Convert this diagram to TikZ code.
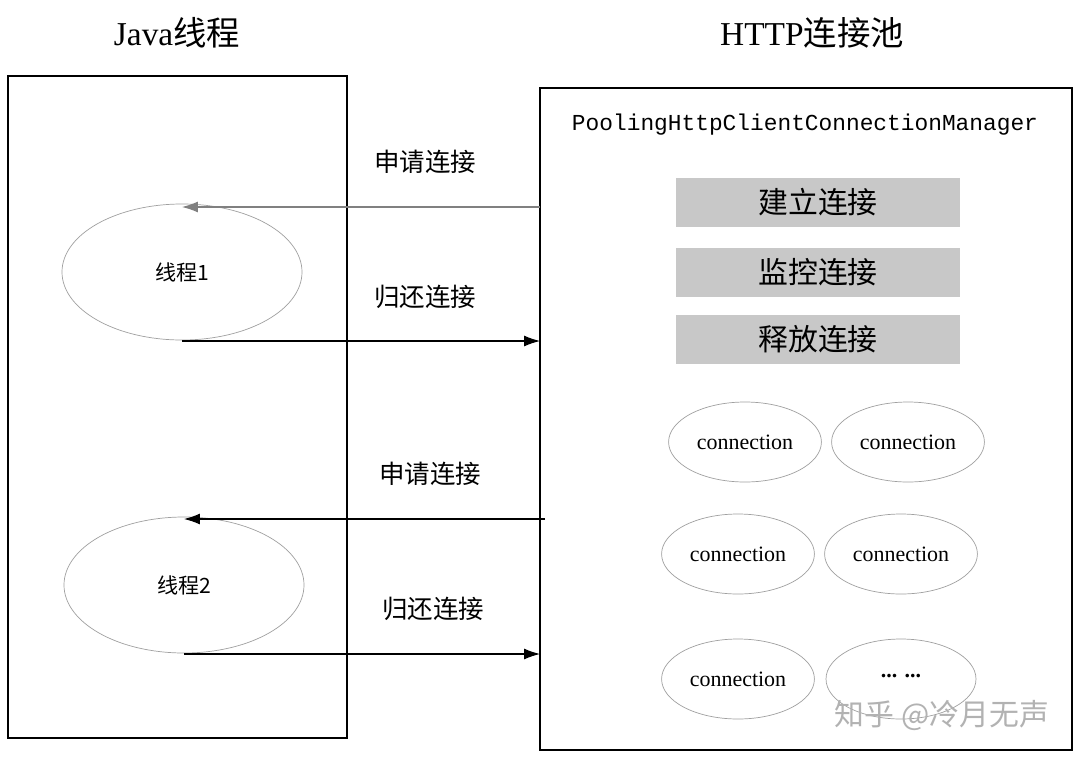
\documentclass[tikz,border=0pt]{standalone}
\usepackage{fontspec}
\setmainfont{Liberation Serif}
\setmonofont{Liberation Mono}
\newfontfamily\cjk{Noto Sans CJK SC}
\usetikzlibrary{shapes.geometric,arrows.meta}
\definecolor{barfill}{HTML}{C8C8C8}
\definecolor{ringgray}{HTML}{A0A0A0}
\newlength{\unitpx}\setlength{\unitpx}{0.02cm}
\tikzset{
  bar/.style={fill=barfill,draw=none,minimum width=284\unitpx,minimum height=49\unitpx,font=\cjk\fontsize{17}{17}\selectfont},
  conn/.style={ellipse,draw=ringgray,minimum width=150\unitpx,minimum height=80\unitpx,font=\fontsize{12.5}{12.5}\selectfont},
  thread/.style={ellipse,draw=ringgray,minimum width=240\unitpx,minimum height=136\unitpx,font=\cjk\fontsize{12}{12}\selectfont},
  lbl/.style={font=\cjk\fontsize{14.5}{14.5}\selectfont},
  flow/.style={-{Latex[length=0.32cm,width=0.22cm]},line width=0.6pt}
}
\begin{document}
\begin{tikzpicture}[x=0.02cm,y=-0.02cm]
\useasboundingbox[fill=white] (0,0) rectangle (1085,761);
% boxes
\draw[line width=0.6pt] (8,76) rectangle (347,738);
\draw[line width=0.6pt] (540,88) rectangle (1072,750);
\node[font=\fontsize{19}{19}\selectfont] (javat) at (177,33) {Java{\cjk 线程}};
\node[font=\fontsize{19}{19}\selectfont] (poolt) at (812,33) {HTTP{\cjk 连接池}};
\node[font=\ttfamily\fontsize{13}{13}\selectfont] (mgr) at (805,125) {PoolingHttpClientConnectionManager};
% manager functions
\node[bar] (build) at (818,202) {建立连接};
\node[bar] (watch) at (818,272) {监控连接};
\node[bar] (free) at (818,339) {释放连接};
% connections
\node[conn] (c1) at (745,442) {connection};
\node[conn] (c2) at (908,442) {connection};
\node[conn] (c3) at (738,554) {connection};
\node[conn] (c4) at (901,554) {connection};
\node[conn] (c5) at (738,679) {connection};
\node[conn] (c6) at (901,679) {\raisebox{4pt}{\textbf{... ...}}};
% threads
\node[thread] (t1) at (182,272) {线程1};
\node[thread] (t2) at (184,585) {线程2};
\coordinate (in1) at (540,207);
\coordinate (out1) at (540,341);
\coordinate (in2) at (545,519);
\coordinate (out2) at (540,654);
\draw[flow,draw=gray,fill=gray] (in1) -- (t1.north |- in1);
\draw[flow] (t1.south |- out1) -- (out1);
\draw[flow] (in2) -- (t2.north |- in2);
\draw[flow] (t2.south |- out2) -- (out2);
\node[lbl] (a1) at (425,162) {申请连接};
\node[lbl] (r1) at (425,297) {归还连接};
\node[lbl] (a2) at (430,474) {申请连接};
\node[lbl] (r2) at (433,609) {归还连接};
\node[font=\cjk\fontsize{17}{17}\selectfont,text=gray!60] (wm) at (942,715) {知乎 @冷月无声};
\end{tikzpicture}
\end{document}
